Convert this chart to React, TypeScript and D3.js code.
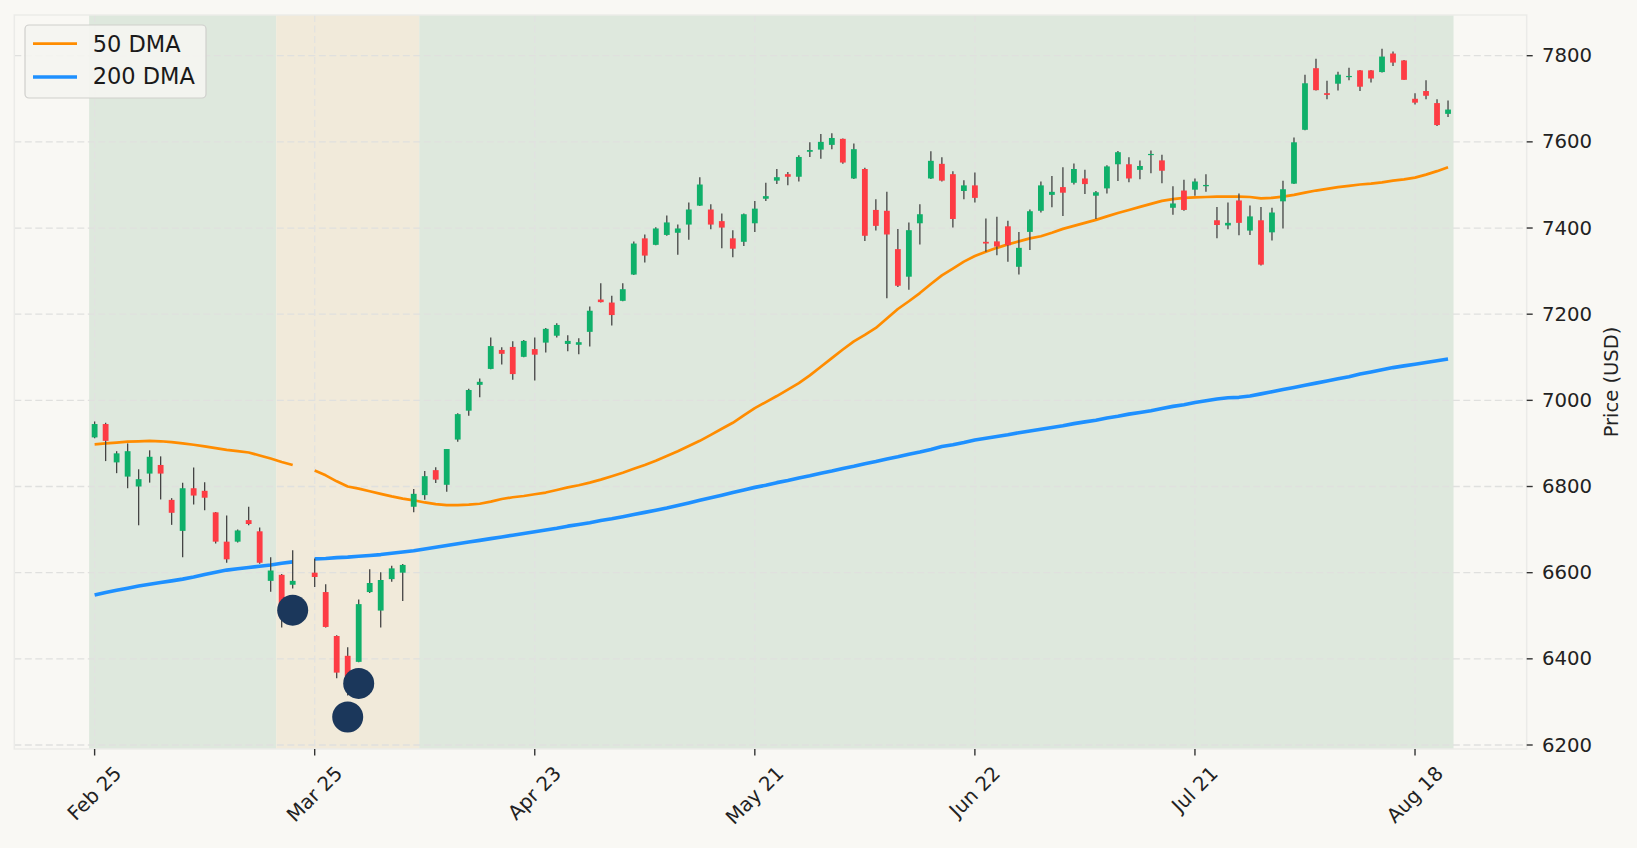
import React, { useMemo } from "react";
import { scaleLinear, line } from "d3";

// trading-day index -> tick label
const tickIdx = [0, 20, 40, 60, 80, 100, 120];
const tickLabels = ["Feb 25", "Mar 25", "Apr 23", "May 21", "Jun 22", "Jul 21", "Aug 18"];
const priceTicks = [6200, 6400, 6600, 6800, 7000, 7200, 7400, 7600, 7800];

// OHLC, one entry per trading day (null = no data)
const opens = [
  6914, 6945, 6856, 6823, 6800, 6830, 6850, 6769, 6697, 6796, 6790, 6740, 6672, 6672, 6722, 6696, 6581, 6595, 6572, null,
  6600, 6555, 6453, 6407, 6393, 6555, 6512, 6585, 6600, 6753, 6780, 6838, 6804, 6909, 6976, 7036, 7073, 7117, 7124, 7101,
  7119, 7134, 7150, 7131, 7129, 7159, 7234, 7227, 7231, 7292, 7376, 7361, 7384, 7389, 7408, 7452, 7443, 7416, 7376, 7368,
  7411, 7468, 7510, 7525, 7519, 7577, 7582, 7593, 7607, 7515, 7537, 7442, 7440, 7351, 7287, 7411, 7515, 7549, 7525, 7486,
  7499, 7368, 7369, 7404, 7310, 7391, 7440, 7477, 7495, 7505, 7515, 7475, 7492, 7548, 7548, 7535, 7571, 7557, 7447, 7487,
  7489, 7497, 7418, 7406, 7464, 7394, 7418, 7390, 7462, 7503, 7628, 7771, 7713, 7735, 7751, 7766, 7766, 7762, 7805, 7789,
  7700, 7718, 7690, 7665,
];
const highs = [
  6951, 6948, 6882, 6900, 6840, 6884, 6870, 6773, 6809, 6844, 6810, 6741, 6733, 6700, 6753, 6705, 6636, 6597, 6652, null,
  6633, 6573, 6455, 6427, 6538, 6608, 6601, 6616, 6620, 6794, 6836, 6845, 6887, 6970, 7027, 7051, 7146, 7123, 7137, 7140,
  7146, 7168, 7179, 7151, 7144, 7218, 7272, 7243, 7272, 7369, 7385, 7402, 7429, 7408, 7459, 7518, 7455, 7434, 7395, 7434,
  7463, 7505, 7537, 7530, 7569, 7599, 7618, 7620, 7608, 7596, 7540, 7467, 7484, 7398, 7413, 7455, 7578, 7564, 7532, 7511,
  7529, 7422, 7426, 7417, 7391, 7443, 7508, 7521, 7541, 7550, 7535, 7486, 7546, 7579, 7564, 7557, 7580, 7570, 7497, 7512,
  7515, 7525, 7449, 7459, 7480, 7452, 7449, 7447, 7510, 7610, 7756, 7793, 7742, 7763, 7772, 7767, 7767, 7816, 7810, 7790,
  7713, 7743, 7699, 7696,
];
const lows = [
  6912, 6859, 6831, 6796, 6710, 6809, 6770, 6711, 6636, 6758, 6745, 6668, 6623, 6670, 6710, 6621, 6556, 6473, 6563, null,
  6567, 6473, 6355, 6315, 6392, 6553, 6473, 6579, 6534, 6740, 6769, 6808, 6788, 6904, 6964, 7007, 7072, 7083, 7048, 7100,
  7046, 7111, 7146, 7114, 7107, 7125, 7227, 7174, 7230, 7291, 7320, 7360, 7382, 7338, 7373, 7451, 7397, 7353, 7332, 7358,
  7391, 7463, 7502, 7499, 7508, 7565, 7561, 7583, 7549, 7514, 7370, 7394, 7237, 7263, 7257, 7362, 7514, 7508, 7401, 7467,
  7459, 7345, 7337, 7322, 7292, 7349, 7436, 7448, 7428, 7501, 7479, 7421, 7480, 7509, 7506, 7513, 7527, 7504, 7431, 7440,
  7475, 7484, 7376, 7397, 7383, 7384, 7313, 7371, 7399, 7502, 7627, 7719, 7699, 7719, 7743, 7718, 7738, 7761, 7776, 7744,
  7687, 7699, 7637, 7658,
];
const closes = [
  6945, 6906, 6877, 6882, 6817, 6869, 6830, 6739, 6796, 6779, 6774, 6672, 6631, 6698, 6713, 6623, 6605, 6509, 6581, null,
  6590, 6474, 6368, 6359, 6527, 6576, 6583, 6610, 6618, 6783, 6824, 6816, 6887, 6968, 7024, 7043, 7126, 7108, 7061, 7138,
  7106, 7166, 7175, 7138, 7135, 7208, 7228, 7198, 7258, 7364, 7336, 7399, 7413, 7399, 7443, 7501, 7408, 7401, 7352, 7432,
  7445, 7474, 7518, 7519, 7565, 7581, 7600, 7609, 7552, 7583, 7382, 7405, 7385, 7266, 7395, 7432, 7556, 7510, 7421, 7499,
  7470, 7364, 7357, 7360, 7354, 7439, 7499, 7484, 7482, 7537, 7502, 7483, 7543, 7576, 7515, 7544, 7572, 7533, 7457, 7442,
  7508, 7500, 7407, 7412, 7412, 7427, 7315, 7436, 7490, 7599, 7736, 7720, 7709, 7756, 7753, 7728, 7747, 7798, 7784, 7744,
  7691, 7707, 7639, 7675,
];

const dma50 = [
  6898, 6900, 6902, 6904, 6905, 6906, 6905, 6903, 6900, 6897, 6893, 6889, 6885, 6882, 6879, 6872, 6865, 6857, 6850, null,
  6837, 6826, 6812, 6800, 6795, 6789, 6783, 6777, 6772, 6768, 6763, 6759, 6757, 6757, 6758, 6760, 6765, 6771, 6775, 6778,
  6782, 6786, 6792, 6798, 6803, 6809, 6816, 6824, 6832, 6841, 6850, 6860, 6871, 6882, 6894, 6906, 6920, 6934, 6948, 6965,
  6982, 6996, 7010, 7025, 7040, 7058, 7078, 7098, 7118, 7137, 7152, 7168, 7190, 7212, 7230, 7249, 7270, 7290, 7306, 7322,
  7335, 7345, 7354, 7362, 7369, 7376, 7381, 7389, 7398, 7405, 7412, 7419, 7427, 7435, 7442, 7449, 7456, 7463, 7467, 7470,
  7471, 7472, 7473, 7473, 7473, 7472, 7469, 7470, 7473, 7477, 7482, 7487, 7491, 7495, 7498, 7501, 7503, 7506, 7510, 7513,
  7517, 7524, 7532, 7541,
];
const dma200 = [
  6548, 6554, 6559, 6564, 6569, 6573, 6577, 6581, 6585, 6590, 6596, 6601, 6606, 6609, 6612, 6615, 6618, 6622, 6625, null,
  6632, 6633, 6635, 6636, 6638, 6640, 6642, 6645, 6648, 6651, 6655, 6659, 6663, 6667, 6671, 6675, 6679, 6683, 6687, 6691,
  6695, 6699, 6703, 6708, 6712, 6716, 6721, 6725, 6730, 6735, 6740, 6745, 6750, 6756, 6762, 6768, 6774, 6780, 6786, 6792,
  6798, 6803, 6809, 6814, 6820, 6825, 6831, 6836, 6842, 6847, 6853, 6858, 6864, 6869, 6875, 6880, 6886, 6893, 6897, 6902,
  6908, 6912, 6916, 6920, 6925, 6929, 6933, 6937, 6941, 6946, 6950, 6954, 6959, 6963, 6968, 6972, 6976, 6981, 6986, 6990,
  6995, 6999, 7003, 7006, 7007, 7010, 7015, 7020, 7025, 7030, 7035, 7040, 7045, 7050, 7055, 7061, 7066, 7071, 7076, 7080,
  7084, 7088, 7092, 7096,
];

// regime shading: [fromIdx, toIdx, kind]
const regimeStart = [-0.5, 16.5, 29.5];
const regimeEnd = [16.5, 29.5, 123.5];
const regimeKind = ["bull", "caution", "bull"];

// signal markers
const signalIdx = [18, 23, 24];
const signalPrice = [6513, 6265, 6343];

const W = 1637;
const H = 848;
const left = 14.3;
const right = 1526.7;
const top = 15;
const bottom = 749;
const FONT = "DejaVu Sans, sans-serif";
const UP = "#0fb06a";
const DOWN = "#fd3c44";

const measure = (txt: string, size: number) => {
  const c = document.createElement("canvas").getContext("2d");
  if (!c) return txt.length * size * 0.6;
  c.font = `${size}px DejaVu Sans`;
  return c.measureText(txt).width;
};

export default function App() {
  const x = scaleLinear().domain([-7.3, 130.15]).range([left, right]);
  const y = scaleLinear().domain([6200, 7800]).range([745, 55.7]);

  const mk = (arr: (number | null)[]) =>
    line<number | null>()
      .defined((d) => d != null)
      .x((_, i) => x(i))
      .y((d) => y(d as number))(arr) || "";

  const bodyW = 5.8;
  const tickFont = 19.7;

  const xLabels = useMemo(
    () =>
      tickLabels.map((t) => {
        const w = measure(t, tickFont);
        const h = tickFont * 1.16;
        return (w + h) / (2 * Math.SQRT2);
      }),
    []
  );

  return (
    <svg
      width={W}
      height={H}
      style={{ position: "fixed", left: 0, top: 0 }}
      fontFamily={FONT}
    >
      <rect width={W} height={H} fill="#f9f8f4" />
      {regimeStart.map((s, k) => (
        <rect
          key={"r" + k}
          x={x(s)}
          y={top}
          width={x(regimeEnd[k]) - x(s)}
          height={bottom - top}
          fill={regimeKind[k] === "bull" ? "#dee8dd" : "#f1eada"}
        />
      ))}
      {/* grid */}
      {priceTicks.map((p) => (
        <line
          key={"gy" + p}
          x1={left}
          x2={right}
          y1={y(p)}
          y2={y(p)}
          stroke="#e0e0de"
          strokeWidth={1.3}
          strokeDasharray="7,3.5"
        />
      ))}
      {tickIdx.map((t) => (
        <line
          key={"gx" + t}
          x1={x(t)}
          x2={x(t)}
          y1={top}
          y2={bottom}
          stroke="#e2e2e0"
          strokeWidth={1.3}
          strokeDasharray="7,3.5"
        />
      ))}
      {/* moving averages */}
      <path d={mk(dma200)} fill="none" stroke="#1e90ff" strokeWidth={3.6} strokeLinejoin="round" />
      <path d={mk(dma50)} fill="none" stroke="#ff8c00" strokeWidth={2.7} strokeLinejoin="round" />
      {/* candles */}
      {opens.map((o, i) => {
        const c = closes[i];
        if (o == null || c == null) return null;
        const up = c >= o;
        const yt = y(Math.max(o, c));
        const yb = y(Math.min(o, c));
        return (
          <g key={"c" + i}>
            <line
              x1={x(i)}
              x2={x(i)}
              y1={y(highs[i] as number)}
              y2={y(lows[i] as number)}
              stroke="#444"
              strokeWidth={1.3}
            />
            <rect
              x={x(i) - bodyW / 2}
              y={yt}
              width={bodyW}
              height={Math.max(yb - yt, 1.2)}
              fill={up ? UP : DOWN}
            />
          </g>
        );
      })}
      {/* signals */}
      {signalIdx.map((s, k) => (
        <circle key={"s" + k} cx={x(s)} cy={y(signalPrice[k])} r={15.5} fill="#1b375b" />
      ))}
      {/* frame */}
      <rect x={left} y={top} width={right - left} height={bottom - top} fill="none" stroke="#ebebe8" strokeWidth={1.5} />
      {/* y axis (right) */}
      {priceTicks.map((p) => (
        <g key={"ty" + p}>
          <line x1={right} x2={right + 6} y1={y(p)} y2={y(p)} stroke="#333" strokeWidth={1.4} />
          <text x={1542} y={y(p)} dominantBaseline="central" fontSize={tickFont} fill="#222">
            {p}
          </text>
        </g>
      ))}
      <text
        transform={`translate(1611,382) rotate(-90)`}
        textAnchor="middle"
        dominantBaseline="central"
        fontSize={19.5}
        fill="#222"
      >
        Price (USD)
      </text>
      {/* x axis */}
      {tickIdx.map((t, k) => (
        <g key={"tx" + t}>
          <line x1={x(t)} x2={x(t)} y1={bottom} y2={bottom + 6.5} stroke="#333" strokeWidth={1.4} />
          <text
            transform={`translate(${x(t)},${762 + xLabels[k]}) rotate(-45)`}
            textAnchor="middle"
            dominantBaseline="central"
            fontSize={tickFont}
            fill="#222"
          >
            {tickLabels[k]}
          </text>
        </g>
      ))}
      {/* legend */}
      <rect x={25} y={25} width={181} height={73} rx={4} fill="#f4f4f0" fillOpacity={0.92} stroke="#cfcfcc" strokeWidth={1.2} />
      <line x1={33} x2={77} y1={43.7} y2={43.7} stroke="#ff8c00" strokeWidth={2.7} />
      <line x1={33} x2={77} y1={77} y2={77} stroke="#1e90ff" strokeWidth={3.6} />
      <text x={92.7} y={51.7} fontSize={22.5} fill="#1a1a1a">
        50 DMA
      </text>
      <text x={92.7} y={83.6} fontSize={22.5} fill="#1a1a1a">
        200 DMA
      </text>
    </svg>
  );
}
